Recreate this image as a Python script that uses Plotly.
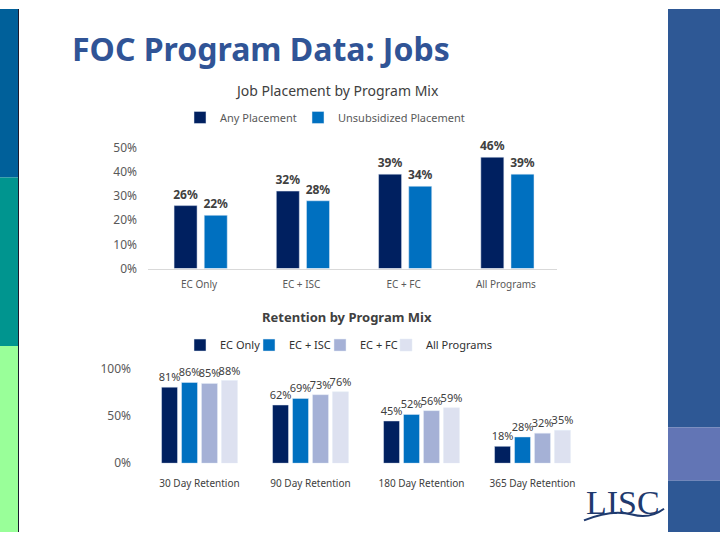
"""
FOC Program Data: Jobs - job placement and retention by program mix
Two grouped bar charts on one slide-like canvas
"""

import plotly.graph_objects as go

# Job placement chart
placement_categories = ['EC Only', 'EC + ISC', 'EC + FC', 'All Programs']
any_placement = [26, 32, 39, 46]
unsubsidized_placement = [22, 28, 34, 39]

# Retention chart
retention_categories = ['30 Day Retention', '90 Day Retention', '180 Day Retention', '365 Day Retention']
retention_ec_only = [81, 62, 45, 18]
retention_ec_isc = [86, 69, 52, 28]
retention_ec_fc = [85, 73, 56, 32]
retention_all = [88, 76, 59, 35]

W, H = 720, 540
FONT = 'Noto Sans, Open Sans, sans-serif'


def px_x(x):
    return x / W


def px_y(y):
    return 1 - y / H


fig = go.Figure()
legends = {}

# --- top chart: two bars per category ---
# (name, values, colour, bar offset, legend slot, legend text x)
top_series = [
    ('Any Placement', any_placement, '#002060', -0.245, 'legend', 217),
    ('Unsubsidized Placement', unsubsidized_placement, '#0070C0', 0.05, 'legend2', 335),
]
for name, vals, color, off, leg, tx in top_series:
    fig.add_trace(go.Bar(
        x=placement_categories,
        y=vals,
        name=name,
        marker_color=color,
        width=0.225,
        offset=off,
        text=[f'{v}%' for v in vals],
        textposition='outside',
        textfont=dict(size=12, color='#404040', family=FONT, weight='bold'),
        constraintext='none',
        cliponaxis=False,
        xaxis='x', yaxis='y',
        legend=leg,
    ))
    legends[leg] = dict(x=px_x(tx - 37), y=px_y(112), xanchor='left', yanchor='middle',
                        font=dict(size=11, color='#595959'),
                        bgcolor='rgba(0,0,0,0)')

# --- bottom chart: four bars per category ---
bottom_series = [
    ('EC Only', retention_ec_only, '#002060', -0.342, 'legend3', 217),
    ('EC + ISC', retention_ec_isc, '#0070C0', -0.162, 'legend4', 286),
    ('EC + FC', retention_ec_fc, '#A5B1D6', 0.018, 'legend5', 357),
    ('All Programs', retention_all, '#DDE1F0', 0.198, 'legend6', 423),
]
for name, vals, color, off, leg, tx in bottom_series:
    fig.add_trace(go.Bar(
        x=retention_categories,
        y=vals,
        name=name,
        marker_color=color,
        width=0.144,
        offset=off,
        text=[f'{v}%' for v in vals],
        textposition='outside',
        textfont=dict(size=11, color='#404040', family=FONT),
        constraintext='none',
        cliponaxis=False,
        xaxis='x2', yaxis='y2',
        legend=leg,
    ))
    legends[leg] = dict(x=px_x(tx - 37), y=px_y(347), xanchor='left', yanchor='middle',
                        font=dict(size=11, color='#303030'),
                        bgcolor='rgba(0,0,0,0)')

# side strips and decoration
shapes = []
left_bands = [(0, 174, '#00609A'), (174, 348, '#00958F'), (348, 540, '#99FF99')]
for y0, y1, c in left_bands:
    shapes.append(dict(type='rect', xref='paper', yref='paper',
                       x0=0, x1=px_x(18), y0=px_y(y1), y1=px_y(y0),
                       fillcolor=c, line_width=0, layer='below'))
shapes.append(dict(type='line', xref='paper', yref='paper',
                   x0=px_x(18.5), x1=px_x(18.5), y0=0, y1=1,
                   line=dict(color='#1A1A2E', width=1)))
right_bands = [(0, 432, '#2E5895'), (432, 487, '#6275B5'), (487, 540, '#2E5895')]
for y0, y1, c in right_bands:
    shapes.append(dict(type='rect', xref='paper', yref='paper',
                       x0=px_x(668), x1=1, y0=px_y(y1), y1=px_y(y0),
                       fillcolor=c, line_width=0, layer='below'))
# LISC swoosh
shapes.append(dict(
    type='path', xref='paper', yref='paper',
    path=(f'M {px_x(584)},{px_y(528)} '
          f'Q {px_x(612)},{px_y(516)} {px_x(632)},{px_y(522)} '
          f'Q {px_x(650)},{px_y(527)} {px_x(664)},{px_y(516)}'),
    line=dict(color='#1F3A6E', width=2),
))


def note(text, x, y, size, color, anchor='center', family=FONT):
    return dict(text=text, x=px_x(x), y=px_y(y), xref='paper', yref='paper',
                xanchor=anchor, yanchor='middle', showarrow=False,
                font=dict(size=size, color=color, family=family))


annotations = [
    note('<b>FOC Program Data: Jobs</b>', 70, 41, 32, '#305496', anchor='left'),
    note('Job Placement by Program Mix', 337, 84, 14, '#404040'),
    note('<b>Retention by Program Mix</b>', 347, 318, 13, '#404040'),
    note('LISC', 623, 510, 34, '#1F3A6E',
         family='Liberation Serif, DejaVu Serif, serif'),
]

fig.update_layout(
    width=W, height=H,
    margin=dict(l=0, r=0, t=0, b=0),
    paper_bgcolor='white',
    plot_bgcolor='white',
    font=dict(family=FONT, size=11, color='#595959'),
    barmode='overlay',
    showlegend=True,
    xaxis=dict(domain=[px_x(148), px_x(557)], anchor='y',
               showline=True, linecolor='#D9D9D9', linewidth=1,
               showgrid=False, ticks='', ticklabelstandoff=6,
               tickfont=dict(size=10, color='#595959')),
    yaxis=dict(domain=[px_y(268), px_y(143)], anchor='x',
               range=[0, 50], dtick=10, ticksuffix='%',
               showgrid=False, zeroline=False, showline=False,
               ticklabelstandoff=10, tickfont=dict(size=12, color='#595959')),
    xaxis2=dict(domain=[px_x(144), px_x(588)], anchor='y2',
                showline=False, showgrid=False, ticks='', ticklabelstandoff=13,
                tickfont=dict(size=10, color='#404040')),
    yaxis2=dict(domain=[px_y(469), px_y(372)], anchor='x2',
                range=[0, 100], dtick=50, ticksuffix='%',
                showgrid=False, zeroline=False, showline=False,
                ticklabelstandoff=12, tickfont=dict(size=12, color='#595959')),
    shapes=shapes,
    annotations=annotations,
    **legends,
)

# page body has a default margin; drop it so the slide fills the window
fig.write_html('out.html', config={'displayModeBar': False},
               post_script="document.body.style.margin='0';")
